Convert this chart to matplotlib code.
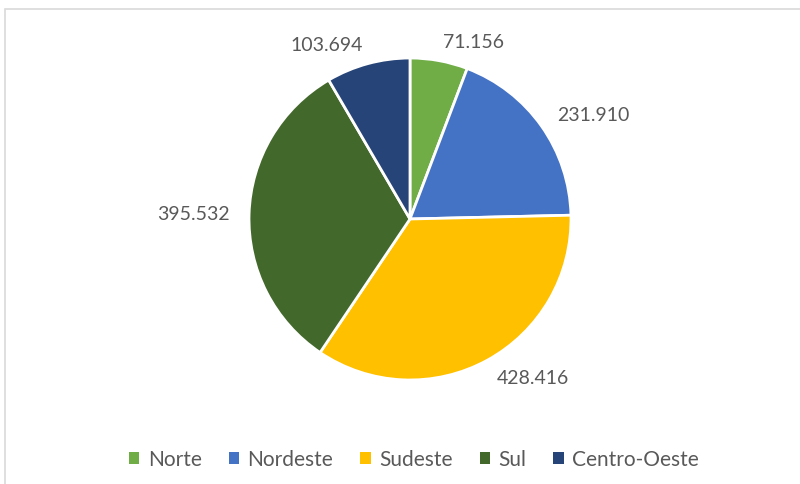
import matplotlib.pyplot as plt
from matplotlib.patches import Rectangle, Patch

regions = ['Norte', 'Nordeste', 'Sudeste', 'Sul', 'Centro-Oeste']
values = [71.156, 231.910, 428.416, 395.532, 103.694]
labels = ['71.156', '231.910', '428.416', '395.532', '103.694']
colors = ['#70AD47', '#4472C4', '#FFC000', '#43682B', '#264478']

plt.rcParams['font.family'] = ['Lato', 'DejaVu Sans']

fig = plt.figure(figsize=(8, 4.85), dpi=100)

# chart border (partly cut off on right/bottom like the screenshot)
fig.patches.append(Rectangle((5 / 800, -0.05), 1.0, 1 - 10 / 485 + 0.05,
                             transform=fig.transFigure, fill=False,
                             edgecolor='#d9d9d9', lw=1.2))

ax = fig.add_axes([(410 - 161) / 800, (485 - 220 - 161) / 485, 322 / 800, 322 / 485])
wedges, texts = ax.pie(values, labels=labels, colors=colors, startangle=90,
                       counterclock=False, labeldistance=1.12,
                       wedgeprops=dict(edgecolor='white', linewidth=2),
                       textprops=dict(color='#595959', fontsize=14))
ax.set_xlim(-1, 1)
ax.set_ylim(-1, 1)
ax.set_aspect('equal')

handles = [Patch(facecolor=c, label=r) for c, r in zip(colors, regions)]
fig.legend(handles=handles, loc='center', bbox_to_anchor=(414 / 800, 1 - 460 / 485),
           ncol=5, frameon=False, fontsize=15, labelcolor='#595959',
           handlelength=0.5, handleheight=0.5, handletextpad=0.4, columnspacing=1.3)

fig.savefig('out.png', dpi=100)
